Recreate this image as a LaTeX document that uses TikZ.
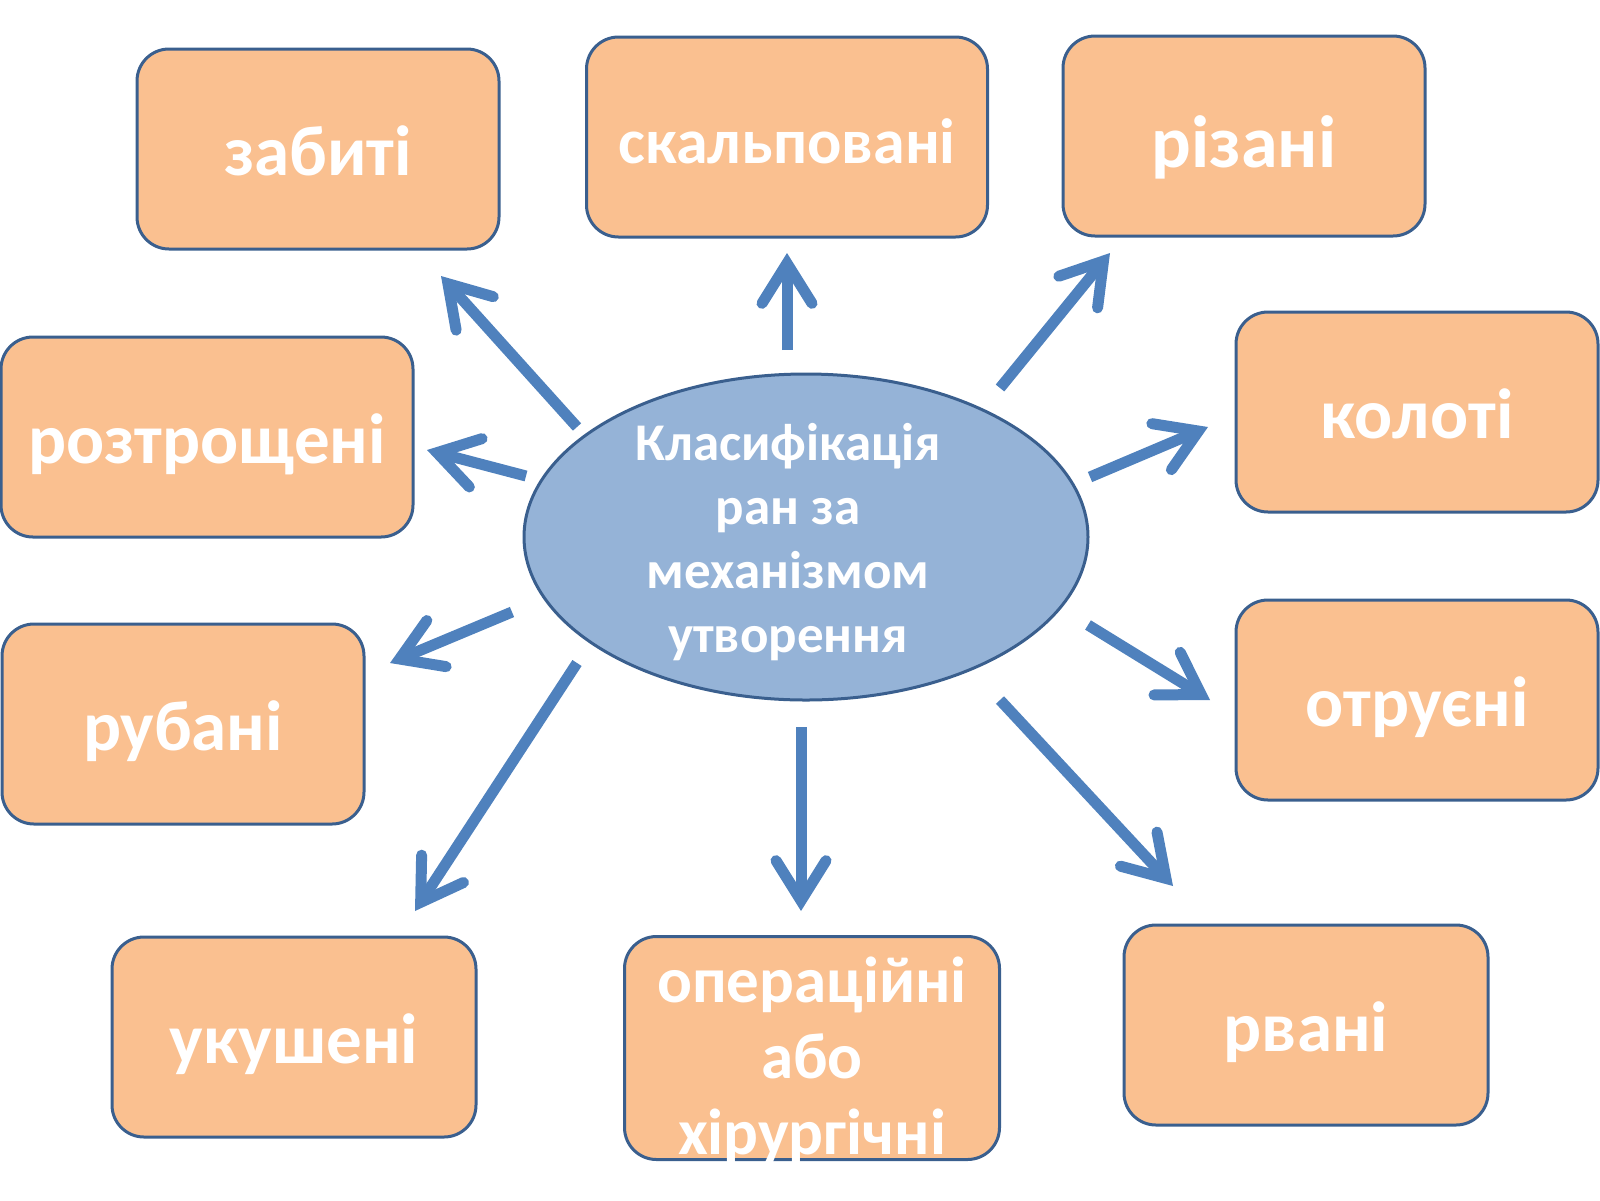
\documentclass[tikz,border=0pt]{standalone}
\usepackage{fontspec}
\setmainfont{Carlito}
\usetikzlibrary{arrows.meta,shapes.geometric}
\definecolor{boxfill}{HTML}{FAC090}
\definecolor{boxline}{HTML}{3A5F8E}
\definecolor{ellfill}{HTML}{95B3D7}
\definecolor{arrblue}{HTML}{4F81BD}

\begin{document}
\begin{tikzpicture}[x=1pt, y=-1pt,
  wound/.style={rectangle, draw=boxline, line width=3pt, fill=boxfill,
    rounded corners=32pt, minimum width=362pt, minimum height=200pt,
    inner sep=0pt, align=center, text=white, text height=58pt,
    text depth=6pt, font=\fontsize{71}{76}\selectfont\bfseries},
  centre/.style={ellipse, draw=boxline, line width=3pt, fill=ellfill,
    minimum width=564pt, minimum height=326pt, inner sep=0pt},
  ctext/.style={align=center, text=white, inner sep=0pt,
    font=\fontsize{53}{64}\selectfont\bfseries},
  arr/.style={draw=arrblue, line width=11pt,
    -{Straight Barb[length=40pt, width=50pt, line cap=round, line join=miter]}},
]
  \useasboundingbox (0,0) rectangle (1600,1200);

  % centre
  \node[centre] (cls) at (806,537) {};
  \node[ctext, xshift=-18pt, yshift=-5pt] (cls-t) at (cls.center)
    {Класифікація\\ран за\\механізмом\\утворення};

  % kinds of wounds
  \node[wound] (zab) at (318,149) {забиті};
  \node[wound, minimum width=401pt, font=\fontsize{64}{76}\selectfont\bfseries]
    (ska) at (787,137) {скальповані};
  \node[wound, text height=68pt, font=\fontsize{74}{76}\selectfont\bfseries]
    (riz) at (1244,136) {різані};
  \node[wound, minimum width=412pt] (roz) at (207,437) {розтрощені};
  \node[wound] (kol) at (1417,412) {колоті};
  \node[wound] (rub) at (183,724) {рубані};
  \node[wound] (otr) at (1417,700) {отруєні};
  \node[wound, minimum width=364pt] (uku) at (294,1037) {укушені};
  \node[wound, minimum width=375pt, minimum height=223pt] (ope) at (812,1048) {};
  \node[ctext, yshift=-13pt, font=\fontsize{65}{76}\selectfont\bfseries]
    (ope-t) at (ope.center) {операційні\\або\\хірургічні};
  \node[wound, minimum width=364pt] (rva) at (1306,1025) {рвані};

  % arrow ends
  \coordinate (zab-s) at (577,427);  \coordinate (zab-t) at (441,276);
  \coordinate (ska-s) at (787,350);  \coordinate (ska-t) at (787,253);
  \coordinate (riz-s) at (1000,388); \coordinate (riz-t) at (1110,253);
  \coordinate (roz-s) at (526,476);  \coordinate (roz-t) at (427,450);
  \coordinate (kol-s) at (1090,477); \coordinate (kol-t) at (1208,427);
  \coordinate (rub-s) at (512,612);  \coordinate (rub-t) at (390,663);
  \coordinate (otr-s) at (1088,625); \coordinate (otr-t) at (1210,700);
  \coordinate (uku-s) at (577,663);  \coordinate (uku-t) at (415,911);
  \coordinate (ope-s) at (801,727);  \coordinate (ope-t) at (801,911);
  \coordinate (rva-s) at (1000,700); \coordinate (rva-t) at (1173,886);

  \foreach \k in {zab,ska,riz,roz,kol,rub,otr,uku,ope,rva}
    \draw[arr] (\k-s) -- (\k-t);
\end{tikzpicture}
\end{document}
